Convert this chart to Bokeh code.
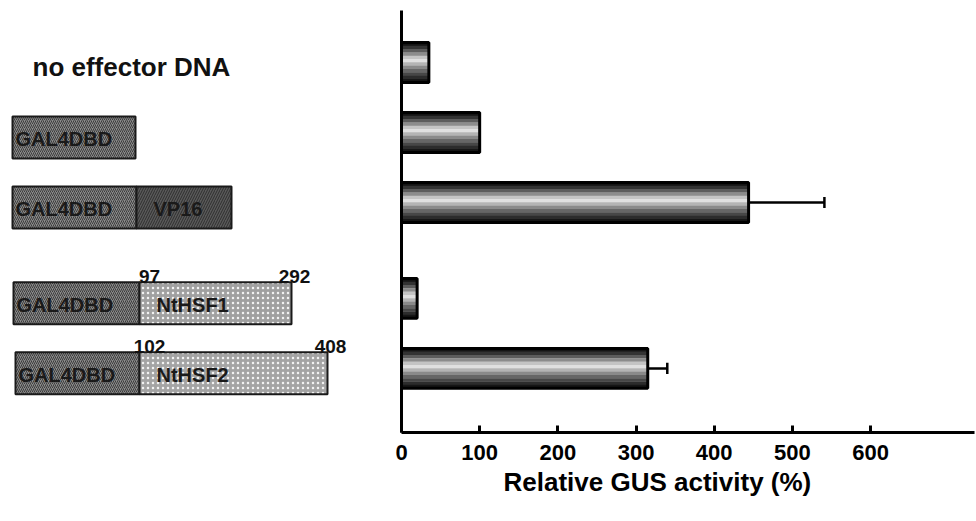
from bokeh.plotting import figure
from bokeh.layouts import row
from bokeh.models import Range1d, FixedTicker, Title, LinearAxis
from bokeh.core.properties import value
from bokeh.embed import file_html
from bokeh.resources import INLINE

# ---------------- data ----------------
constructs = ["no effector DNA", "GAL4DBD", "GAL4DBD-VP16", "GAL4DBD-NtHSF1", "GAL4DBD-NtHSF2"]
groups = [0, 0, 0, 1, 1]                      # second group is set apart
gus_activity = [35, 100, 444, 20, 315]        # relative GUS activity (%)
gus_error = [0, 0, 97, 0, 25]
x_ticks = [0, 100, 200, 300, 400, 500, 600]
x_title = "Relative GUS activity (%)"

# schematic of effector constructs (diagram units)
dbd_rows = [1, 2, 3, 4]
dbd_start = [12, 12, 13, 15]
dbd_end = [135, 136, 139, 139]
fusion_rows = [2, 3, 4]
fusion_names = ["VP16", "NtHSF1", "NtHSF2"]
fusion_end = [231, 291, 327]
aa_rows = [3, 3, 4, 4]
aa_labels = ["97", "292", "102", "408"]

FONT = value("Liberation Sans")
GAP = 0.37
pos = [i + GAP * g for i, g in enumerate(groups)]

H = 521
TOP, BOTTOM = 10, 89
Y0, Y1 = 5.286, -0.743

# ---------------- left: constructs ----------------
left = figure(width=385, height=H, output_backend="svg", toolbar_location=None,
              x_range=Range1d(0, 385), y_range=Range1d(Y0 - 0.07, Y1 - 0.07),
              min_border_left=0, min_border_right=0, min_border_top=TOP,
              min_border_bottom=BOTTOM)
left.axis.visible = False
left.grid.visible = False
left.outline_line_color = None

BH = 0.6
dbd_y = [pos[r] for r in dbd_rows]
left.quad(left=dbd_start, right=dbd_end,
          top=[y - BH / 2 for y in dbd_y], bottom=[y + BH / 2 for y in dbd_y],
          fill_color="#8a8a8a", line_color="#1a1a1a", line_width=2,
          hatch_pattern="right_diagonal_line", hatch_color="#3c3c3c",
          hatch_scale=4, hatch_weight=1)
fus_y = [pos[r] for r in fusion_rows]
fus_start = [dbd_end[dbd_rows.index(r)] for r in fusion_rows]
fus_fill = ["#5a5a5a", "#a0a0a0", "#a4a4a4"]
fus_hatch = ["right_diagonal_line", "dot", "dot"]
fus_hcol = ["#2e2e2e", "#f2f2f2", "#f2f2f2"]
for i in range(len(fusion_rows)):
    left.quad(left=[fus_start[i]], right=[fusion_end[i]],
              top=[fus_y[i] - BH / 2], bottom=[fus_y[i] + BH / 2],
              fill_color=fus_fill[i], line_color="#1a1a1a", line_width=2,
              hatch_pattern=fus_hatch[i], hatch_color=fus_hcol[i],
              hatch_scale=5, hatch_weight=1)

left.text(x=[dbd_s + 3 for dbd_s in dbd_start], y=dbd_y, text=["GAL4DBD"] * len(dbd_rows),
          text_font=FONT, text_font_style="bold", text_font_size="20px",
          text_color="#1a1a1a", text_baseline="middle", text_align="left", y_offset=2)
left.text(x=[s + 17 for s in fus_start], y=fus_y, text=fusion_names,
          text_font=FONT, text_font_style="bold", text_font_size="20px",
          text_color="#1a1a1a", text_baseline="middle", text_align="left", y_offset=2)
left.text(x=[32], y=[pos[0]], text=[constructs[0]],
          text_font=FONT, text_font_style="bold", text_font_size="26px",
          text_color="#111111", text_baseline="middle", text_align="left")

# amino-acid positions above the fusion boxes
aa_x = []
for k, r in enumerate(aa_rows):
    i = fusion_rows.index(r)
    aa_x.append(fus_start[i] + 10 if k % 2 == 0 else fusion_end[i] + 3)
left.text(x=aa_x, y=[pos[r] - BH / 2 for r in aa_rows], text=aa_labels,
          text_font=FONT, text_font_style="bold", text_font_size="19px",
          text_color="#111111", text_baseline="bottom", text_align="center", y_offset=1)

# ---------------- right: bar chart ----------------
p = figure(width=591, height=H, output_backend="svg", toolbar_location=None,
           x_range=Range1d(0, 733), y_range=Range1d(Y0, Y1),
           min_border_left=16, min_border_right=2, min_border_top=TOP,
           min_border_bottom=BOTTOM)
p.grid.visible = False
p.outline_line_color = None

bar_h = 0.57
shades = ["#141414", "#333333", "#5c5c5c", "#8c8c8c", "#c4c4c4", "#e0e0e0",
          "#b4b4b4", "#8a8a8a", "#666666", "#474747", "#2c2c2c", "#161616"]
N = len(shades)
for k, c in enumerate(shades):
    p.hbar(y=[y - bar_h / 2 + (k + 0.5) * bar_h / N for y in pos], height=bar_h / N + 0.004,
           left=0, right=gus_activity, fill_color=c, line_color=None)
p.hbar(y=pos, height=bar_h, left=0, right=gus_activity, fill_color=None,
       line_color="black", line_width=3)

idx = [i for i in range(len(pos)) if gus_error[i] > 0]
err_y = [pos[i] for i in idx]
err_x0 = [gus_activity[i] for i in idx]
err_x1 = [gus_activity[i] + gus_error[i] for i in idx]
p.segment(x0=err_x0, x1=err_x1, y0=err_y, y1=err_y, line_color="black", line_width=2.5)
cap = 0.08
p.segment(x0=err_x1, x1=err_x1, y0=[y - cap for y in err_y],
          y1=[y + cap for y in err_y], line_color="black", line_width=2.5)

p.yaxis.ticker = FixedTicker(ticks=[])
p.yaxis.axis_line_width = 3
p.yaxis.major_label_text_font_size = "0px"
p.yaxis.major_tick_out = 0
p.yaxis.minor_tick_out = 0

xa = p.xaxis[0]
xa.ticker = FixedTicker(ticks=x_ticks)
xa.axis_line_width = 3
xa.major_tick_in = 7
xa.major_tick_out = 0
xa.major_tick_line_width = 3
xa.minor_tick_in = 0
xa.minor_tick_out = 0
xa.major_label_text_font = "Liberation Sans"
xa.major_label_text_font_style = "bold"
xa.major_label_text_font_size = "22px"
xa.major_label_text_color = "black"
xa.major_label_standoff = 12

# empty spacer axis between tick labels and the axis title
spacer = LinearAxis(ticker=FixedTicker(ticks=[]), axis_line_color=None,
                    major_tick_out=16, major_tick_in=0, minor_tick_out=0, minor_tick_in=0,
                    major_label_text_font_size="0px", major_label_standoff=0)
p.add_layout(spacer, "below")

p.add_layout(Title(text=x_title, align="left", offset=102, standoff=4,
                   text_font="Liberation Sans", text_font_style="bold",
                   text_font_size="26px", text_color="black"), "below")

layout = row(left, p)
open("out.html", "w").write(file_html(layout, INLINE))
